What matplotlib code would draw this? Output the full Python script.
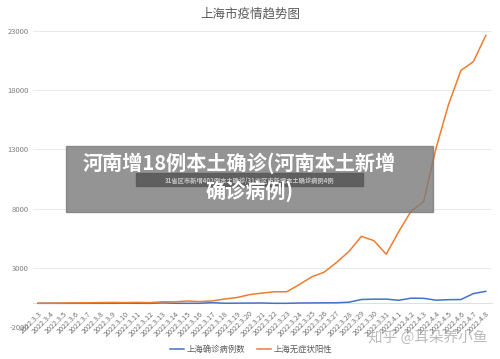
import matplotlib
matplotlib.use("Agg")
import matplotlib.pyplot as plt
from matplotlib.patches import Rectangle

plt.rcParams['font.family'] = ['Noto Sans CJK SC', 'DejaVu Sans']

# 数据 - 上海本土新增
dates = ["2022.3.3", "2022.3.4", "2022.3.5", "2022.3.6", "2022.3.7", "2022.3.8",
         "2022.3.9", "2022.3.10", "2022.3.11", "2022.3.12", "2022.3.13", "2022.3.14",
         "2022.3.15", "2022.3.16", "2022.3.17", "2022.3.18", "2022.3.19", "2022.3.20",
         "2022.3.21", "2022.3.22", "2022.3.23", "2022.3.24", "2022.3.25", "2022.3.26",
         "2022.3.27", "2022.3.28", "2022.3.29", "2022.3.30", "2022.3.31", "2022.4.1",
         "2022.4.2", "2022.4.3", "2022.4.4", "2022.4.5", "2022.4.6", "2022.4.7",
         "2022.4.8"]
confirmed = [2, 3, 0, 3, 4, 3, 4, 11, 5, 1, 41, 9, 5, 8, 57, 8, 17, 24, 31, 4, 4,
             29, 38, 45, 50, 96, 326, 355, 358, 260, 438, 425, 268, 311, 322, 824, 1015]
asymptomatic = [14, 16, 28, 45, 51, 62, 76, 64, 78, 64, 128, 130, 197, 150, 203, 366,
                492, 734, 865, 977, 979, 1580, 2231, 2631, 3450, 4381, 5656, 5298, 4144,
                6051, 7788, 8581, 13086, 16766, 19660, 20398, 22609]
y_ticks = [-2000, 3000, 8000, 13000, 18000, 23000]

fig = plt.figure(figsize=(5, 3.59), dpi=100)
ax = fig.add_axes([0.066, 0.089, 0.918, 0.825])

# 横轴放在 0 处
for s in ["top", "right", "left"]:
    ax.spines[s].set_visible(False)
ax.spines["bottom"].set_position(("data", 0))
ax.spines["bottom"].set_color("#d9d9d9")
ax.spines["bottom"].set_linewidth(0.6)

x = list(range(len(dates)))
ax.plot(x, confirmed, color="#4472C4", lw=1.1, label="上海确诊病例数", zorder=3)
ax.plot(x, asymptomatic, color="#ED7D31", lw=1.1, label="上海无症状阳性", zorder=3)

ax.set_xlim(-0.4, 36.5)
ax.set_ylim(-2000, 23000)
ax.set_yticks(y_ticks)
ax.set_yticklabels([str(v) for v in y_ticks], fontsize=5.5, color="#7f7f7f")
ax.grid(axis="y", color="#e6e6e6", lw=0.6)
ax.set_axisbelow(True)

ax.set_xticks(x)
ax.set_xticklabels(dates, rotation=45, ha="right", rotation_mode="anchor",
                   fontsize=5.2, color="#707070")
ax.tick_params(axis="x", length=0, pad=4.5)
ax.tick_params(axis="y", length=0, pad=3)

fig.text(0.5, 0.962, "上海市疫情趋势图", ha="center", va="center",
         fontsize=9, color="#595959")

fig.legend(loc="center", bbox_to_anchor=(0.502, 0.028), ncol=2, frameon=False,
           fontsize=6, handlelength=1.7, handletextpad=0.3, columnspacing=1.4,
           labelcolor="#595959")

# 水印
fig.text(0.974, 0.061, "知乎 @耳朵养小鱼", ha="right", va="center",
         fontsize=10.5, color="#b0b0b0", alpha=0.85)

# 叠加标题框
fig.patches.append(Rectangle((0.132, 1 - 212 / 359), 0.734, 66 / 359,
                             transform=fig.transFigure, color="#7a7a7a",
                             alpha=0.8, zorder=10))
fig.patches.append(Rectangle((0.272, 1 - 186 / 359), 0.454, 13 / 359,
                             transform=fig.transFigure, color="#5a5a5a",
                             alpha=0.9, zorder=11))
fig.text(0.499, 1 - 180 / 359, "31省区市新增402例本土确诊/31省区市新增本土确诊病例4例",
         ha="center", va="center", fontsize=4.5, color="#c8c8c8",
         fontweight="bold", zorder=12)
fig.text(0.478, 1 - 163 / 359, "河南增18例本土确诊(河南本土新增", ha="center",
         va="center", fontsize=14.5, color="white", fontweight="heavy", zorder=13)
fig.text(0.5, 1 - 191 / 359, "确诊病例)", ha="center", va="center",
         fontsize=14.5, color="white", fontweight="heavy", zorder=13)

fig.savefig("out.png", dpi=100)
